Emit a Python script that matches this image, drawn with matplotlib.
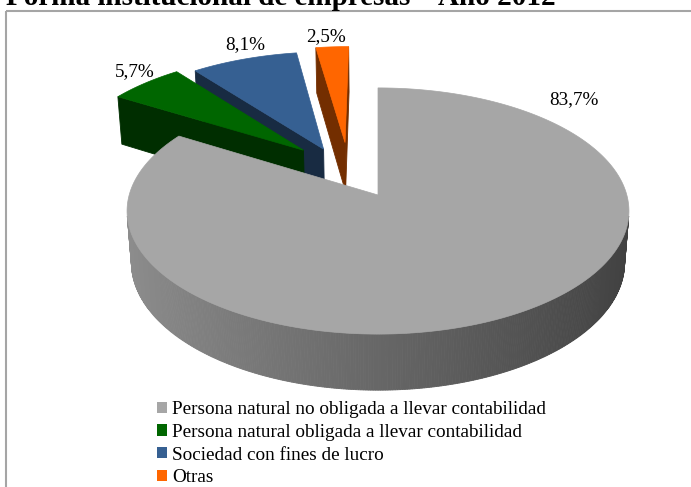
import numpy as np
import matplotlib
matplotlib.use("Agg")
import matplotlib.pyplot as plt
from matplotlib.patches import Polygon, Rectangle, Patch
from matplotlib.colors import to_rgb

categories = [
    "Persona natural no obligada a llevar contabilidad",
    "Persona natural obligada a llevar contabilidad",
    "Sociedad con fines de lucro",
    "Otras",
]
shares = [83.7, 5.7, 8.1, 2.5]
title = "Forma institucional de empresas – Año 2012"

colors = ["#A6A6A6", "#006600", "#366092", "#FF6600"]
# how far each slice is pulled out (pie radii) and in which direction (deg)
explode_r = [0.0, 0.50, 0.46, 0.48]
explode_dir = [0.0, 129.0, 120.0, 107.0]
label_xy = [(574, 100), (135, 72), (245, 45), (326, 37)]

W, H = 691, 487

# perspective camera looking down on the pie
ELEV = np.radians(29.1)
DIST = 6.72
FOCAL = 1672.0
CX, CY = 378.0, 195.0
THICK = 0.24

s, c = np.sin(ELEV), np.cos(ELEV)
cam = np.array([0.0, -DIST * c, DIST * s])


def depth(p):
    return DIST + p[1] * c - p[2] * s


def project(pts):
    out = []
    for x, y, z in pts:
        d = DIST + y * c - z * s
        out.append((CX + FOCAL * x / d, CY - FOCAL * (y * s + z * c) / d))
    return out


def shade(col, f):
    return tuple(min(1.0, v * f) for v in to_rgb(col))


plt.rcParams["font.family"] = "Liberation Serif"

fig = plt.figure(figsize=(W / 100, H / 100), dpi=100)
ax = fig.add_axes([0, 0, 1, 1])
ax.set_xlim(0, W)
ax.set_ylim(H, 0)
ax.axis("off")

# slice geometry, clockwise from 12 o'clock
total = sum(shares)
start = 90.0
slices = []
for i, v in enumerate(shares):
    span = 360.0 * v / total
    a0, a1 = start, start - span
    start = a1
    phi = np.radians(explode_dir[i])
    ox, oy = explode_r[i] * np.cos(phi), explode_r[i] * np.sin(phi)
    mid = np.radians(0.5 * (a0 + a1))
    cy_ = oy + 0.6 * np.sin(mid)
    slices.append((i, a0, a1, ox, oy, cy_))

# far slices first
slices.sort(key=lambda t: -t[5])

for i, a0, a1, ox, oy, _ in slices:
    col = colors[i]
    n = max(int(abs(a0 - a1) * 2), 4)
    th = np.radians(np.linspace(a0, a1, n))
    rx, ry = ox + np.cos(th), oy + np.sin(th)
    faces = []

    # curved outer wall
    for j in range(n - 1):
        tm = 0.5 * (th[j] + th[j + 1])
        nrm = np.array([np.cos(tm), np.sin(tm), 0.0])
        p = np.array([ox + np.cos(tm), oy + np.sin(tm), -THICK / 2])
        if np.dot(cam - p, nrm) > 0:
            quad = [(rx[j], ry[j], 0), (rx[j + 1], ry[j + 1], 0),
                    (rx[j + 1], ry[j + 1], -THICK), (rx[j], ry[j], -THICK)]
            faces.append((depth(p), quad, shade(col, 0.62 - 0.235 * nrm[0])))

    # flat cut walls
    for a, turn in ((a0, 90.0), (a1, -90.0)):
        t = np.radians(a)
        tn = np.radians(a + turn)
        nrm = np.array([np.cos(tn), np.sin(tn), 0.0])
        p = np.array([ox + 0.5 * np.cos(t), oy + 0.5 * np.sin(t), -THICK / 2])
        if np.dot(cam - p, nrm) > 0:
            ex, ey = ox + np.cos(t), oy + np.sin(t)
            quad = [(ox, oy, 0), (ex, ey, 0), (ex, ey, -THICK), (ox, oy, -THICK)]
            faces.append((depth(p), quad, shade(col, 0.45)))

    faces.sort(key=lambda f: -f[0])
    for _, quad, fc in faces:
        ax.add_patch(Polygon(project(quad), closed=True, facecolor=fc,
                             edgecolor=fc, lw=0.6))

    top = [(ox, oy, 0)] + [(x, y, 0) for x, y in zip(rx, ry)]
    ax.add_patch(Polygon(project(top), closed=True, facecolor=col,
                         edgecolor=col, lw=0.5))

# value labels
for v, (lx, ly) in zip(shares, label_xy):
    ax.text(lx, ly, f"{v:.1f}%".replace(".", ","), fontsize=13.8,
            ha="center", va="center")

handles = [Patch(facecolor=col, edgecolor="none") for col in colors]
ax.legend(handles, categories, loc="upper left",
          bbox_to_anchor=(157 / W, 1 - 401 / H), frameon=False,
          fontsize=13.8, handlelength=0.52, handleheight=0.52,
          handletextpad=0.25, labelspacing=0.3, borderpad=0,
          borderaxespad=0)

# chart area border
ax.add_patch(Rectangle((6.5, 10.5), W, H, fill=False, edgecolor="#A5A5A5",
                       lw=1.5, clip_on=False))

fig.text(6 / W, 1 - 5 / H, title, fontsize=21, fontweight="bold",
         ha="left", va="baseline")

fig.savefig("out.png", dpi=100)
plt.close(fig)
